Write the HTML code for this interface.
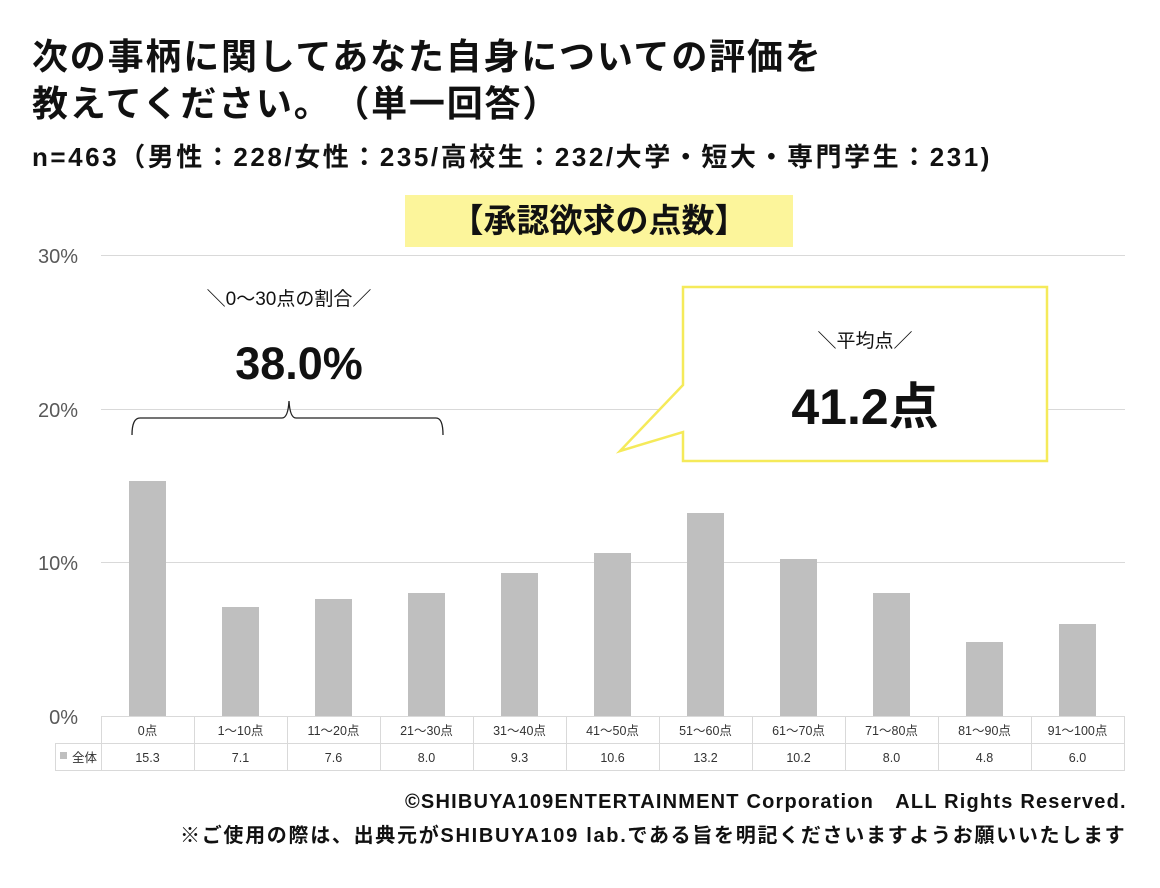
<!DOCTYPE html>
<html><head><meta charset="utf-8"><style>
body{margin:0;width:1160px;height:888px;background:#fff;position:relative;overflow:hidden;font-family:"Liberation Sans","Noto Sans CJK JP",sans-serif;}
.a{position:absolute;white-space:nowrap;}
</style></head><body>
<div class="a" style="left:32px;top:33px;font-size:36px;letter-spacing:1.8px;font-weight:bold;line-height:47px;color:#111;">次の事柄に関してあなた自身についての評価を<br>教えてください。　（単一回答）</div>
<div class="a" style="left:32px;top:137px;font-size:26px;letter-spacing:2.55px;font-weight:bold;color:#111;">n=463（男性：228/女性：235/高校生：232/大学・短大・専門学生：231)</div>
<div class="a" style="left:405px;top:195px;width:388px;height:52px;background:#fcf59b;font-size:33px;font-weight:bold;text-align:center;line-height:52px;color:#111;">【承認欲求の点数】</div>
<svg class="a" style="left:0;top:0" width="1160" height="888" font-family="Liberation Sans, Noto Sans CJK JP, sans-serif">
<g stroke="#d9d9d9" stroke-width="1">
<line x1="101" y1="255.5" x2="1125" y2="255.5"/><line x1="101" y1="409.5" x2="1125" y2="409.5"/><line x1="101" y1="562.5" x2="1125" y2="562.5"/>
</g>
<g fill="#595959" font-size="20" text-anchor="end">
<text x="78" y="263">30%</text><text x="78" y="417">20%</text><text x="78" y="570">10%</text><text x="78" y="724">0%</text>
</g>
<g fill="#bfbfbf">
<rect x="129" y="481" width="37" height="235"/>
<rect x="222" y="607" width="37" height="109"/>
<rect x="315" y="599" width="37" height="117"/>
<rect x="408" y="593" width="37" height="123"/>
<rect x="501" y="573" width="37" height="143"/>
<rect x="594" y="553" width="37" height="163"/>
<rect x="687" y="513" width="37" height="203"/>
<rect x="780" y="559" width="37" height="157"/>
<rect x="873" y="593" width="37" height="123"/>
<rect x="966" y="642" width="37" height="74"/>
<rect x="1059" y="624" width="37" height="92"/>
</g>
<g stroke="#d9d9d9" stroke-width="1" fill="none">
<line x1="101" y1="716.5" x2="1125" y2="716.5"/>
<line x1="55" y1="743.5" x2="1125" y2="743.5"/>
<line x1="55" y1="770.5" x2="1125" y2="770.5"/>
<line x1="55.5" y1="743" x2="55.5" y2="770"/>
<line x1="101.5" y1="716" x2="101.5" y2="770"/>
<line x1="194.5" y1="716" x2="194.5" y2="770"/><line x1="287.5" y1="716" x2="287.5" y2="770"/><line x1="380.5" y1="716" x2="380.5" y2="770"/><line x1="473.5" y1="716" x2="473.5" y2="770"/><line x1="566.5" y1="716" x2="566.5" y2="770"/><line x1="659.5" y1="716" x2="659.5" y2="770"/><line x1="752.5" y1="716" x2="752.5" y2="770"/><line x1="845.5" y1="716" x2="845.5" y2="770"/><line x1="938.5" y1="716" x2="938.5" y2="770"/><line x1="1031.5" y1="716" x2="1031.5" y2="770"/><line x1="1124.5" y1="716" x2="1124.5" y2="770"/>
</g>
<rect x="60" y="752" width="7" height="7" fill="#bfbfbf"/>
<text x="72" y="762" font-size="12.5" fill="#333">全体</text>
<g font-size="12.5" fill="#333" text-anchor="middle">
<text x="147.5" y="735">0点</text><text x="240.5" y="735">1～10点</text><text x="333.5" y="735">11～20点</text><text x="426.5" y="735">21～30点</text><text x="519.5" y="735">31～40点</text><text x="612.5" y="735">41～50点</text><text x="705.5" y="735">51～60点</text><text x="798.5" y="735">61～70点</text><text x="891.5" y="735">71～80点</text><text x="984.5" y="735">81～90点</text><text x="1077.5" y="735">91～100点</text>
<text x="147.5" y="762">15.3</text><text x="240.5" y="762">7.1</text><text x="333.5" y="762">7.6</text><text x="426.5" y="762">8.0</text><text x="519.5" y="762">9.3</text><text x="612.5" y="762">10.6</text><text x="705.5" y="762">13.2</text><text x="798.5" y="762">10.2</text><text x="891.5" y="762">8.0</text><text x="984.5" y="762">4.8</text><text x="1077.5" y="762">6.0</text>
</g>
<text x="289" y="305" font-size="19" text-anchor="middle" fill="#111">＼0～30点の割合／</text>
<text x="299" y="379" font-size="45" font-weight="bold" text-anchor="middle" fill="#111">38.0%</text>
<path d="M132,435 Q132,418 140,418 L282,418 Q288,418 289,401 Q290,418 296,418 L436,418 Q443,418 443,435" fill="none" stroke="#222" stroke-width="1.3"/>
<path d="M683,287 L1047,287 L1047,461 L683,461 L683,432 L620,451 L683,385 Z" fill="#fff" stroke="#f5ea5a" stroke-width="2.5"/>
<text x="865" y="347" font-size="19" text-anchor="middle" fill="#111">＼平均点／</text>
<text x="865" y="424" font-size="50" font-weight="bold" text-anchor="middle" fill="#111">41.2点</text>
<g font-size="20" font-weight="bold" fill="#111">
<text x="405" y="808" letter-spacing="1.2">©SHIBUYA109ENTERTAINMENT Corporation　ALL Rights Reserved.</text>
<text x="180" y="842" letter-spacing="1.7">※ご使用の際は、出典元がSHIBUYA109 lab.である旨を明記くださいますようお願いいたします</text>
</g>
</svg>
</body></html>
